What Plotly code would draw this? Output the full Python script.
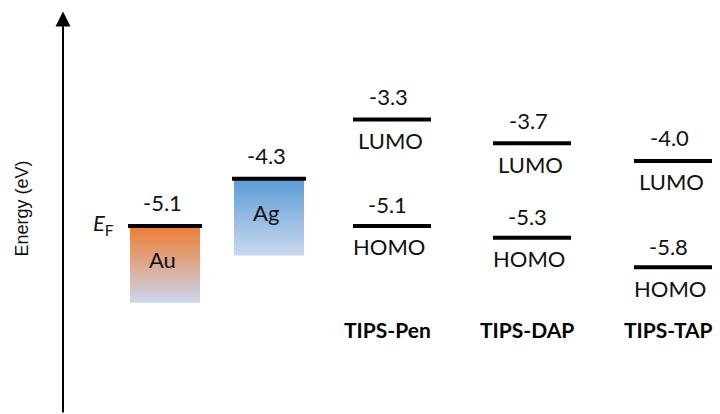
import plotly.graph_objects as go

# Energy levels (eV)
metals = ["Au", "Ag"]
metal_fermi = [-5.1, -4.3]
molecules = ["TIPS-Pen", "TIPS-DAP", "TIPS-TAP"]
lumo = [-3.3, -3.7, -4.0]
homo = [-5.1, -5.3, -5.8]

# Horizontal layout (x axis spans the page width in pixel-like units)
metal_x = [165, 269]
mol_x = [392, 532, 673]
metal_half = 37
box_half = 35
mol_half = 39
box_depth = 1.3  # eV shown below the Fermi level

metal_gradients = [
    [[0, "#C9D6EF"], [0.5, "#DDA98E"], [1, "#ED7D31"]],
    [[0, "#CAD8EF"], [1, "#5B9BD5"]],
]

TXT = dict(family="Lato, Calibri, sans-serif", size=22, color="#111111")
BOLD = dict(family="Lato, Calibri, sans-serif", size=21, color="#000000")

fig = go.Figure()

# Metal boxes with vertical gradients
for name, xc, ef, cs in zip(metals, metal_x, metal_fermi, metal_gradients):
    x0, x1 = xc - box_half, xc + box_half
    y0, y1 = ef - box_depth, ef
    fig.add_trace(go.Scatter(
        x=[x0, x1, x1, x0, x0], y=[y1, y1, y0, y0, y1],
        mode="lines", line=dict(width=0), fill="toself",
        fillgradient=dict(type="vertical", colorscale=cs, start=y0, stop=y1),
        hoverinfo="skip", showlegend=False,
    ))

# Level bars
def level(xc, half, y):
    fig.add_trace(go.Scatter(
        x=[xc - half, xc + half], y=[y, y], mode="lines",
        line=dict(color="black", width=4), hoverinfo="skip", showlegend=False,
    ))

for xc, ef in zip(metal_x, metal_fermi):
    level(xc, metal_half, ef)
for xc, lu, ho in zip(mol_x, lumo, homo):
    level(xc, mol_half, lu)
    level(xc, mol_half, ho)

ann = []

def label(x, y, text, yshift, xshift=0, font=TXT):
    ann.append(dict(x=x, y=y, xref="x", yref="y", text=text, showarrow=False,
                    xanchor="center", yanchor="middle",
                    xshift=xshift, yshift=yshift, font=font))

for name, xc, ef in zip(metals, metal_x, metal_fermi):
    label(xc, ef, f"{ef:.1f}", 23, -3)
    label(xc, ef, name, -34, -3)

for xc, lu, ho in zip(mol_x, lumo, homo):
    label(xc, lu, f"{lu:.1f}", 23, -4)
    label(xc, lu, "LUMO", -21, -2)
    label(xc, ho, f"{ho:.1f}", 21, -5)
    label(xc, ho, "HOMO", -21, -3)

for xc, name in zip(mol_x, molecules):
    ann.append(dict(x=xc, y=0.203, xref="x", yref="paper", text=f"<b>{name}</b>",
                    showarrow=False, xanchor="center", yanchor="middle",
                    xshift=-5, font=BOLD))

# Fermi level marker next to the Au bar
ann.append(dict(x=metal_x[0] - metal_half, y=metal_fermi[0], xref="x", yref="y",
                text="<i>E</i><sub>F</sub>", showarrow=False,
                xanchor="right", yanchor="middle", xshift=-12, yshift=2,
                font=dict(family="Lato, Calibri, sans-serif", size=22, color="#111111")))

# Energy axis arrow
ann.append(dict(x=63, y=0.972, xref="x", yref="paper", text="", showarrow=True,
                ax=0, ay=404, axref="pixel", ayref="pixel",
                arrowhead=2, arrowsize=1.5, arrowwidth=2, arrowcolor="black",
                standoff=0))
ann.append(dict(x=0.031, y=0.497, xref="paper", yref="paper", text="Energy (eV)",
                showarrow=False, textangle=-90, xanchor="center", yanchor="middle",
                font=dict(family="Liberation Sans, Arial, sans-serif", size=18,
                          color="#111111")))

fig.update_layout(
    width=720, height=414,
    margin=dict(l=0, r=0, t=0, b=0),
    paper_bgcolor="white", plot_bgcolor="white",
    xaxis=dict(range=[0, 720], visible=False, fixedrange=True),
    yaxis=dict(range=[-8.2785, -1.2805], visible=False, fixedrange=True),
    annotations=ann,
    showlegend=False,
)

fig.write_html("out.html")
